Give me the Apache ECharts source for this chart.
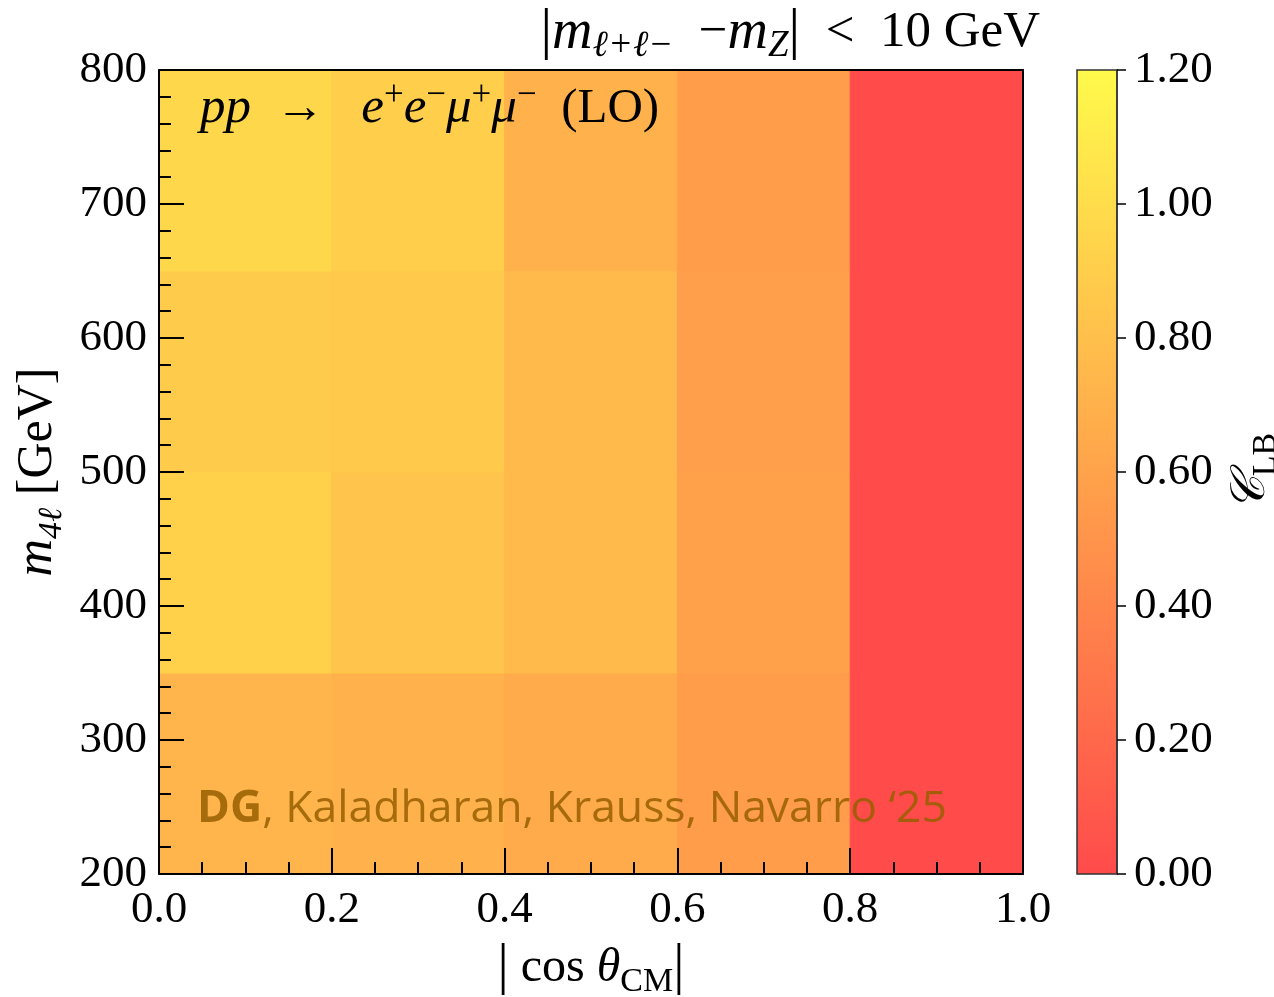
<!DOCTYPE html>
<html>
<head>
<meta charset="utf-8">
<script src="https://cdn.jsdelivr.net/npm/echarts@6/dist/echarts.min.js"></script>
<style>
  html, body { margin: 0; padding: 0; background: #ffffff; }
  #chart { width: 1274px; height: 997px; }
</style>
</head>
<body>
<div id="chart"></div>
<script>
// Bin edges of the 2D histogram
const cosEdges = [0.0, 0.2, 0.4, 0.6, 0.8, 1.0];
const massEdges = [200, 350, 500, 650, 800];

// C_LB per bin, one row per m4l bin (bottom to top), columns follow |cos theta|
const row200to350 = [0.73, 0.70, 0.65, 0.56, 0.01];
const row350to500 = [0.92, 0.83, 0.76, 0.58, 0.01];
const row500to650 = [0.88, 0.87, 0.76, 0.57, 0.01];
const row650to800 = [0.96, 0.90, 0.70, 0.56, 0.01];
const valueRows = [row200to350, row350to500, row500to650, row650to800];

// Colour scale range and ticks
const colorMin = 0.0;
const colorMax = 1.2;
const colorStops = ['#ff4b4b', '#fffa4b'];

const cells = [];
valueRows.forEach((row, j) => {
  row.forEach((v, i) => {
    cells.push([cosEdges[i], cosEdges[i + 1], massEdges[j], massEdges[j + 1], v]);
  });
});

const serif = '"Liberation Serif", "DejaVu Serif", serif';
const tickFont = { fontFamily: serif, fontSize: 45, color: '#000' };

const chart = echarts.init(document.getElementById('chart'), null, { renderer: 'canvas' });

const option = {
  backgroundColor: '#ffffff',
  animation: false,
  grid: [
    { left: 159, top: 70, width: 864, height: 804, containLabel: false, outerBoundsMode: 'none' },
    { left: 1077, top: 70, width: 40, height: 804, containLabel: false, outerBoundsMode: 'none' }
  ],
  visualMap: {
    type: 'continuous',
    show: false,
    min: colorMin,
    max: colorMax,
    dimension: 4,
    seriesIndex: 0,
    inRange: { color: colorStops }
  },
  xAxis: [
    {
      type: 'value', gridIndex: 0, min: 0, max: 1, interval: 0.2, z: 10,
      axisLine: { show: true, onZero: false, lineStyle: { color: '#000', width: 2 } },
      axisTick: { show: true, inside: true, length: 26, lineStyle: { color: '#000', width: 2 } },
      minorTick: { show: true, splitNumber: 4, length: 12, lineStyle: { color: '#000', width: 2 } },
      splitLine: { show: false },
      axisLabel: { ...tickFont, margin: 14, formatter: v => v.toFixed(1) },
      name: '{bar||}{rm| cos }{it|θ}{sub|CM}{bar||}',
      nameLocation: 'middle',
      nameGap: 63,
      nameTextStyle: {
        rich: {
          bar: { fontFamily: serif, fontSize: 56, lineHeight: 62, verticalAlign: 'middle', color: '#000' },
          rm: { fontFamily: serif, fontSize: 48, lineHeight: 62, verticalAlign: 'middle', color: '#000' },
          it: { fontFamily: serif, fontStyle: 'italic', fontSize: 48, lineHeight: 62, verticalAlign: 'middle', color: '#000' },
          sub: { fontFamily: serif, fontSize: 34, lineHeight: 34, verticalAlign: 'bottom', color: '#000' }
        }
      }
    },
    {
      type: 'value', gridIndex: 0, min: 0, max: 1, position: 'top', z: 10,
      axisLine: { show: true, onZero: false, lineStyle: { color: '#000', width: 2 } },
      axisTick: { show: false }, axisLabel: { show: false }, splitLine: { show: false }
    },
    {
      type: 'value', gridIndex: 1, min: 0, max: 1, show: false
    }
  ],
  yAxis: [
    {
      type: 'value', gridIndex: 0, min: 200, max: 800, interval: 100, z: 10,
      axisLine: { show: true, onZero: false, lineStyle: { color: '#000', width: 2 } },
      axisTick: { show: true, inside: true, length: 25, lineStyle: { color: '#000', width: 2 } },
      minorTick: { show: true, splitNumber: 5, length: 12, lineStyle: { color: '#000', width: 2 } },
      splitLine: { show: false },
      axisLabel: { ...tickFont, margin: 12 },
      name: '{it|m}{sub|4ℓ}{rm| [GeV]}',
      nameLocation: 'middle',
      nameRotate: 90,
      nameGap: 83,
      nameTextStyle: {
        rich: {
          rm: { fontFamily: serif, fontSize: 50, lineHeight: 62, verticalAlign: 'middle', color: '#000' },
          it: { fontFamily: serif, fontStyle: 'italic', fontSize: 52, lineHeight: 62, verticalAlign: 'middle', color: '#000' },
          sub: { fontFamily: serif, fontStyle: 'italic', fontSize: 34, lineHeight: 34, verticalAlign: 'bottom', color: '#000' }
        }
      }
    },
    {
      type: 'value', gridIndex: 0, min: 200, max: 800, position: 'right', z: 10,
      axisLine: { show: true, onZero: false, lineStyle: { color: '#000', width: 2 } },
      axisTick: { show: false }, axisLabel: { show: false }, splitLine: { show: false }
    },
    {
      type: 'value', gridIndex: 1, min: colorMin, max: colorMax, interval: 0.2, position: 'right', z: 10,
      axisLine: { show: true, onZero: false, lineStyle: { color: '#333', width: 1.5 } },
      axisTick: { show: true, length: 9, lineStyle: { color: '#000', width: 1.5 } },
      splitLine: { show: false },
      axisLabel: { ...tickFont, margin: 17, formatter: v => v.toFixed(2) },
      name: '{scr|𝒞}{sub|LB}',
      nameLocation: 'middle',
      nameRotate: 90,
      nameGap: 104,
      nameTextStyle: {
        rich: {
          scr: { fontFamily: '"DejaVu Serif", serif', fontStyle: 'italic', fontSize: 48, lineHeight: 62, verticalAlign: 'middle', color: '#000' },
          sub: { fontFamily: serif, fontSize: 34, lineHeight: 34, verticalAlign: 'bottom', color: '#000' }
        }
      }
    }
  ],
  series: [
    {
      type: 'custom',
      xAxisIndex: 0,
      yAxisIndex: 0,
      z: 1,
      encode: { x: [0, 1], y: [2, 3] },
      data: cells,
      renderItem: function (params, api) {
        const p0 = api.coord([api.value(0), api.value(3)]);
        const p1 = api.coord([api.value(1), api.value(2)]);
        const c = api.visual('color');
        return {
          type: 'rect',
          shape: { x: p0[0], y: p0[1], width: p1[0] - p0[0], height: p1[1] - p0[1] },
          style: { fill: c, stroke: c, lineWidth: 1 }
        };
      }
    },
    {
      // colour bar
      type: 'custom',
      xAxisIndex: 2,
      yAxisIndex: 2,
      z: 1,
      data: [[0, 1, colorMin, colorMax]],
      encode: { x: [0, 1], y: [2, 3] },
      renderItem: function (params, api) {
        const p0 = api.coord([api.value(0), api.value(3)]);
        const p1 = api.coord([api.value(1), api.value(2)]);
        return {
          type: 'rect',
          shape: { x: p0[0], y: p0[1], width: p1[0] - p0[0], height: p1[1] - p0[1] },
          style: {
            fill: new echarts.graphic.LinearGradient(0, 1, 0, 0, [
              { offset: 0, color: colorStops[0] },
              { offset: 1, color: colorStops[1] }
            ]),
            stroke: '#333',
            lineWidth: 1.5
          }
        };
      }
    }
  ],
  graphic: [
    {
      type: 'text',
      right: 234,
      top: 4,
      z: 20,
      style: {
        text: '{bar||}{it|m}{sub|ℓ+ℓ−}{rm|  −}{it|m}{sub|Z}{bar||}{rm|  <  10 GeV}',
        rich: {
          bar: { fontFamily: serif, fontSize: 58, lineHeight: 64, verticalAlign: 'middle', fill: '#000' },
          rm: { fontFamily: serif, fontSize: 51, lineHeight: 64, verticalAlign: 'middle', fill: '#000' },
          it: { fontFamily: serif, fontStyle: 'italic', fontSize: 56, lineHeight: 64, verticalAlign: 'middle', fill: '#000' },
          sub: { fontFamily: serif, fontStyle: 'italic', fontSize: 37, lineHeight: 37, verticalAlign: 'bottom', fill: '#000' }
        }
      }
    },
    {
      type: 'text',
      left: 200,
      top: 78,
      z: 20,
      style: {
        text: '{it|pp}{rm|  →   }{it|e}{sup|+}{it|e}{sup|−}{it|μ}{sup|+}{it|μ}{sup|−}{rm|  (LO)}',
        rich: {
          rm: { fontFamily: serif, fontSize: 49, lineHeight: 62, verticalAlign: 'middle', fill: '#000' },
          it: { fontFamily: serif, fontStyle: 'italic', fontSize: 51, lineHeight: 62, verticalAlign: 'middle', fill: '#000' },
          sup: { fontFamily: serif, fontSize: 35, lineHeight: 35, verticalAlign: 'top', fill: '#000' }
        }
      }
    },
    {
      type: 'text',
      left: 197,
      top: 787,
      z: 20,
      style: {
        text: '{b|DG}{n|, Kaladharan, Krauss, Navarro ‘25}',
        rich: {
          b: { fontFamily: '"Open Sans", "Noto Sans", sans-serif', fontWeight: 'bold', fontSize: 44.5, fill: 'rgba(150, 95, 0, 0.85)' },
          n: { fontFamily: '"Open Sans", "Noto Sans", sans-serif', fontSize: 44.5, fill: 'rgba(150, 95, 0, 0.85)' }
        }
      }
    }
  ]
};

chart.setOption(option);
</script>
</body>
</html>
